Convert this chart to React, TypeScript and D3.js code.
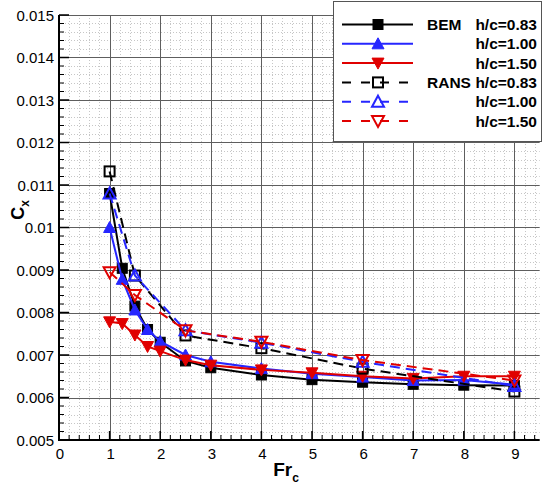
import React from "react";
import * as d3 from "d3";

const bemFr = [1, 1.25, 1.5, 1.75, 2, 2.5, 3, 4, 5, 6, 7, 8, 9];
const bem083 = [0.0108, 0.00904, 0.00815, 0.0076, 0.0073, 0.00686, 0.0067, 0.00653, 0.00642, 0.00636, 0.00631, 0.00629, 0.00628];
const bem100 = [0.0100, 0.00878, 0.00806, 0.0076, 0.00732, 0.0070, 0.00684, 0.00668, 0.00656, 0.00648, 0.0064, 0.00641, 0.0063];
const bem150 = [0.00778, 0.00774, 0.00747, 0.0072, 0.00709, 0.00688, 0.00676, 0.00665, 0.00658, 0.0065, 0.00645, 0.0065, 0.0065];

const ransFr = [1, 1.5, 2.5, 4, 6, 9];
const rans083 = [0.01132, 0.00887, 0.00746, 0.00716, 0.00668, 0.00614];
const rans100 = [0.0108, 0.00887, 0.00758, 0.00729, 0.00684, 0.00627];
const rans150 = [0.00895, 0.00841, 0.00758, 0.00731, 0.00688, 0.0064];

const xTicks = [0, 1, 2, 3, 4, 5, 6, 7, 8, 9];
const yTicks = [0.005, 0.006, 0.007, 0.008, 0.009, 0.01, 0.011, 0.012, 0.013, 0.014, 0.015];

const legendMethods = ["BEM", "", "", "RANS", "", ""];
const legendHc = ["h/c=0.83", "h/c=1.00", "h/c=1.50", "h/c=0.83", "h/c=1.00", "h/c=1.50"];

const BLACK = "#000";
const BLUE = "#2626ff";
const RED = "#e00000";

type Series = { xs: number[]; ys: number[]; color: string; marker: string; dashed: boolean };

const series: Series[] = [
  { xs: bemFr, ys: bem083, color: BLACK, marker: "sq", dashed: false },
  { xs: bemFr, ys: bem100, color: BLUE, marker: "tu", dashed: false },
  { xs: bemFr, ys: bem150, color: RED, marker: "td", dashed: false },
  { xs: ransFr, ys: rans083, color: BLACK, marker: "osq", dashed: true },
  { xs: ransFr, ys: rans100, color: BLUE, marker: "otu", dashed: true },
  { xs: ransFr, ys: rans150, color: RED, marker: "otd", dashed: true },
];

const FONT = "'Liberation Sans', Arial, sans-serif";

function Marker({ type, x, y, color }: { type: string; x: number; y: number; color: string }) {
  const open = type.startsWith("o");
  const t = open ? type.slice(1) : type;
  const fill = open ? "none" : color;
  const stroke = color;
  const sw = open ? 2 : 1;
  if (t === "sq") {
    const s = 10;
    return <rect x={x - s / 2} y={y - s / 2} width={s} height={s} fill={fill} stroke={stroke} strokeWidth={sw} />;
  }
  const w = 6, h = 5.5;
  if (t === "tu") {
    const p = `${x},${y - h - 0.5} ${x + w},${y + h - 0.5} ${x - w},${y + h - 0.5}`;
    return <polygon points={p} fill={fill} stroke={stroke} strokeWidth={sw} strokeLinejoin="miter" />;
  }
  const p = `${x},${y + h + 0.5} ${x + w},${y - h + 0.5} ${x - w},${y - h + 0.5}`;
  return <polygon points={p} fill={fill} stroke={stroke} strokeWidth={sw} strokeLinejoin="miter" />;
}

export default function App() {
  const W = 547, H = 486;
  const left = 59, right = 539.7, top = 15, bottom = 440;
  const x = d3.scaleLinear().domain([0, 9.5]).range([left, right]);
  const y = d3.scaleLinear().domain([0.005, 0.015]).range([bottom, top]);

  const xMinor = d3.range(0, 9.5001, 0.2).filter((v) => Math.abs(v - Math.round(v)) > 1e-6);
  const yMinor = d3.range(0.005, 0.015001, 0.0002).filter((v) => Math.abs(v * 1000 - Math.round(v * 1000)) > 1e-6);

  const line = d3.line<[number, number]>().x((d) => x(d[0])).y((d) => y(d[1]));
  const fmt = (v: number) => String(+v.toFixed(3));

  const legX0 = 333, legY0 = 1, legX1 = 541, legY1 = 141;
  const rowY = (i: number) => 24.5 + i * 19.3;

  return (
    <svg width={W} height={H} style={{ position: "absolute", left: 0, top: 0, background: "#fff" }} fontFamily={FONT}>
      <rect x={0} y={0} width={W} height={H} fill="#fff" />
      {/* minor grid */}
      <g stroke="#c6c6c6" strokeWidth={1} strokeDasharray="1,2">
        {xMinor.map((v, i) => (
          <line key={"xm" + i} x1={Math.round(x(v)) + 0.5} x2={Math.round(x(v)) + 0.5} y1={top} y2={bottom} />
        ))}
        {yMinor.map((v, i) => (
          <line key={"ym" + i} x1={left} x2={right} y1={Math.round(y(v)) + 0.5} y2={Math.round(y(v)) + 0.5} />
        ))}
      </g>
      {/* major grid */}
      <g stroke="#5e5e5e" strokeWidth={1}>
        {xTicks.slice(1).map((v) => (
          <line key={"xg" + v} x1={Math.round(x(v)) + 0.5} x2={Math.round(x(v)) + 0.5} y1={top} y2={bottom} />
        ))}
        {yTicks.slice(1).map((v) => (
          <line key={"yg" + v} x1={left} x2={right} y1={Math.round(y(v)) + 0.5} y2={Math.round(y(v)) + 0.5} />
        ))}
      </g>
      {/* axes */}
      <line x1={left} x2={left} y1={top} y2={bottom + 1} stroke="#000" strokeWidth={2} />
      <line x1={left - 1} x2={right} y1={bottom} y2={bottom} stroke="#000" strokeWidth={2} />
      {/* ticks */}
      <g stroke="#000" strokeWidth={1.5}>
        {xTicks.map((v) => (
          <line key={"xt" + v} x1={x(v)} x2={x(v)} y1={bottom} y2={bottom - 9} />
        ))}
        {xMinor.map((v, i) => (
          <line key={"xmt" + i} x1={x(v)} x2={x(v)} y1={bottom} y2={bottom - 5} strokeWidth={1} />
        ))}
        {yTicks.map((v) => (
          <line key={"yt" + v} x1={left} x2={left + 10} y1={y(v)} y2={y(v)} />
        ))}
        {yMinor.map((v, i) => (
          <line key={"ymt" + i} x1={left} x2={left + 5} y1={y(v)} y2={y(v)} strokeWidth={1} />
        ))}
      </g>
      {/* tick labels */}
      <g fontSize={15} fill="#000">
        {xTicks.map((v) => (
          <text key={"xl" + v} x={x(v) + 1} y={459} textAnchor="middle">
            {v}
          </text>
        ))}
        {yTicks.map((v) => (
          <text key={"yl" + v} x={54} y={y(v) + 5.5} textAnchor="end">
            {fmt(v)}
          </text>
        ))}
      </g>
      {/* axis titles */}
      <text x={286} y={476} fontSize={19} fontWeight="bold" textAnchor="middle">
        Fr<tspan fontSize={12} dy={6}>c</tspan>
      </text>
      <text transform="translate(24,210) rotate(-90)" fontSize={18} fontWeight="bold" textAnchor="middle">
        C<tspan fontSize={12} dy={5}>x</tspan>
      </text>
      {/* series */}
      {series.map((s, si) => {
        const pts: [number, number][] = s.xs.map((xv, i) => [xv, s.ys[i]]);
        return (
          <g key={"s" + si}>
            <path d={line(pts) || ""} fill="none" stroke={s.color} strokeWidth={2} strokeDasharray={s.dashed ? "10,6" : undefined} />
            {pts.map((p, i) => (
              <Marker key={i} type={s.marker} x={x(p[0])} y={y(p[1])} color={s.color} />
            ))}
          </g>
        );
      })}
      {/* legend */}
      <rect x={legX0 + 0.5} y={legY0 + 0.5} width={legX1 - legX0} height={legY1 - legY0} fill="#fff" stroke="#555" strokeWidth={1} />
      {series.map((s, i) => {
        const yy = rowY(i);
        return (
          <g key={"lg" + i}>
            <line x1={342} x2={413} y1={yy} y2={yy} stroke={s.color} strokeWidth={2} strokeDasharray={s.dashed ? "9,10" : undefined} />
            <Marker type={s.marker} x={378} y={yy} color={s.color} />
            {legendMethods[i] && (
              <text x={427} y={yy + 5.5} fontSize={15.5} fontWeight="bold">
                {legendMethods[i]}
              </text>
            )}
            <text x={537} y={yy + 5.5} fontSize={15.5} fontWeight="bold" textAnchor="end">
              {legendHc[i]}
            </text>
          </g>
        );
      })}
    </svg>
  );
}
